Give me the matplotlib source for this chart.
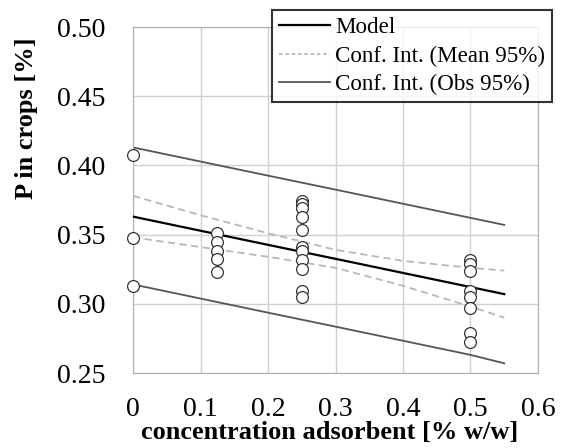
import numpy as np
import matplotlib.pyplot as plt
from matplotlib.lines import Line2D

plt.rcParams['font.family'] = ['Liberation Serif', 'DejaVu Serif']

# measured points
x_obs = [0, 0, 0,
         0.125, 0.125, 0.125, 0.125, 0.125,
         0.25, 0.25, 0.25, 0.25, 0.25, 0.25, 0.25, 0.25, 0.25, 0.25, 0.25,
         0.5, 0.5, 0.5, 0.5, 0.5, 0.5, 0.5, 0.5]
y_obs = [0.4075, 0.3475, 0.313,
         0.351, 0.3445, 0.338, 0.3325, 0.323,
         0.3745, 0.372, 0.369, 0.363, 0.353, 0.341, 0.338, 0.3315, 0.3255, 0.3095, 0.305,
         0.3316, 0.3287, 0.324, 0.309, 0.3047, 0.2967, 0.2791, 0.2726]

# fitted lines
x_fit = [0, 0.1, 0.2, 0.3, 0.4, 0.5, 0.55]
model = [0.363, 0.3528, 0.3426, 0.3325, 0.3223, 0.3121, 0.307]
mean_hi = [0.378, 0.364, 0.351, 0.339, 0.331, 0.326, 0.324]
mean_lo = [0.348, 0.341, 0.334, 0.326, 0.313, 0.298, 0.290]
obs_hi = [0.413, 0.4028, 0.3926, 0.3825, 0.3723, 0.3621, 0.357]
obs_lo = [0.314, 0.3038, 0.2936, 0.2835, 0.2733, 0.2631, 0.257]

fig = plt.figure(figsize=(5.65, 4.48), dpi=100)
ax = fig.add_axes([133/565, 75/448, 405/565, 346/448])

ax.plot(x_fit, obs_hi, color='#555555', lw=1.3, zorder=2)
ax.plot(x_fit, obs_lo, color='#555555', lw=1.3, zorder=2)
ax.plot(x_fit, mean_hi, color='#b8b8b8', lw=1.3, ls=(0, (4, 2.5)), zorder=2)
ax.plot(x_fit, mean_lo, color='#b8b8b8', lw=1.3, ls=(0, (4, 2.5)), zorder=2)
ax.plot(x_fit, model, color='black', lw=1.6, zorder=3)
ax.plot(x_obs, y_obs, 'o', mfc='white', mec='#333333', mew=0.9, ms=8.5, zorder=4,
        clip_on=False)

ax.set_xlim(0, 0.6)
ax.set_ylim(0.25, 0.50)
ax.set_xticks(np.arange(0, 0.61, 0.1))
ax.set_xticklabels(['0', '0.1', '0.2', '0.3', '0.4', '0.5', '0.6'])
ax.set_yticks(np.arange(0.25, 0.501, 0.05))
ax.set_yticklabels(['0.25', '0.30', '0.35', '0.40', '0.45', '0.50'])
ax.tick_params(length=0, labelsize=20)
ax.tick_params(axis='x', pad=17)
ax.tick_params(axis='y', pad=20)
ax.grid(color='#d0d0d0', lw=1)
ax.set_axisbelow(True)
for s in ax.spines.values():
    s.set_color('#b0b0b0')

ax.set_xlabel('concentration adsorbent [% w/w]', fontsize=19, fontweight='bold', va='center')
ax.xaxis.set_label_coords(0.486, -0.171)
ax.set_ylabel('P in crops [%]', fontsize=19, fontweight='bold', va='center')
ax.yaxis.set_label_coords(-0.262, 0.737)

handles = [Line2D([], [], color='black', lw=1.6),
           Line2D([], [], color='#b8b8b8', lw=1.3, ls=(0, (2, 1.5))),
           Line2D([], [], color='#555555', lw=1.3)]
leg = fig.legend(handles, ['Model', 'Conf. Int. (Mean 95%)', 'Conf. Int. (Obs 95%)'],
                 loc='upper left', bbox_to_anchor=(272/565, 1 - 10/448),
                 fontsize=16.6, frameon=True, fancybox=False, handlelength=2.2,
                 handletextpad=0.25, borderpad=0.3, labelspacing=0.32,
                 borderaxespad=0)
leg.get_frame().set_edgecolor('black')
leg.get_frame().set_linewidth(1.5)

fig.savefig('out.png', dpi=100)
